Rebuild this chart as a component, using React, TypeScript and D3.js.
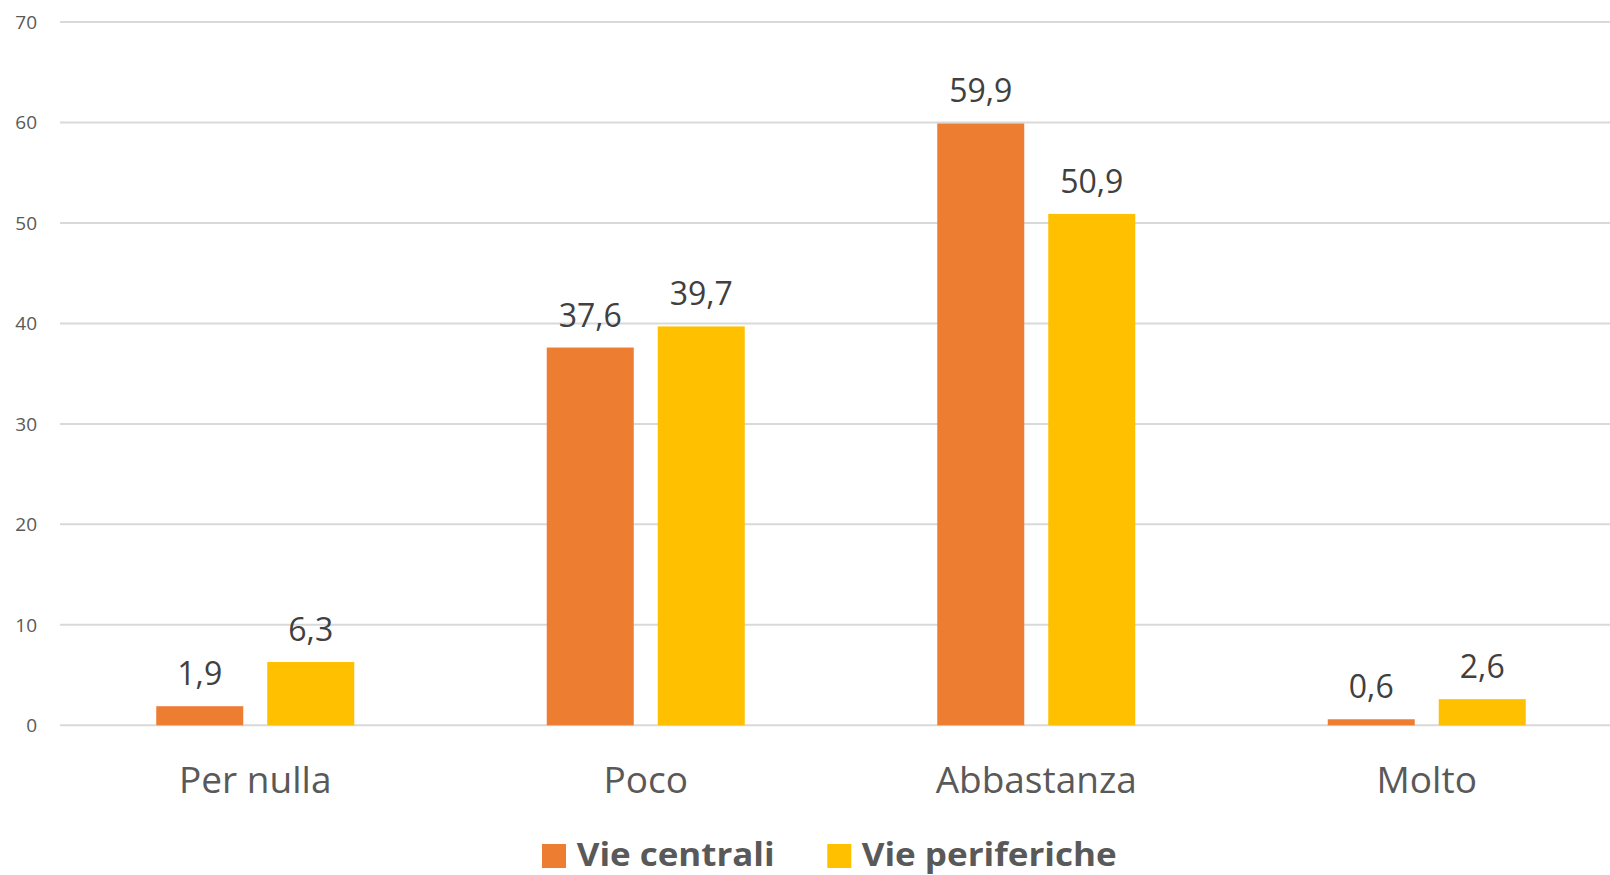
import React from "react";
import * as d3 from "d3";

const categories = ["Per nulla", "Poco", "Abbastanza", "Molto"];
const seriesNames = ["Vie centrali", "Vie periferiche"];
const vieCentrali = [1.9, 37.6, 59.9, 0.6];
const viePeriferiche = [6.3, 39.7, 50.9, 2.6];
const yTicks = [0, 10, 20, 30, 40, 50, 60, 70];
const colors = ["#ED7D31", "#FFC000"];

const W = 1610;
const H = 875;
const FONT = "'Open Sans', sans-serif";

export default function App() {
  const x0 = d3.scaleBand<string>().domain(categories).range([60, 1622]).padding(0);
  const groupW = 198;
  const x1 = d3
    .scaleBand<string>()
    .domain(seriesNames)
    .range([x0.bandwidth() / 2 - groupW / 2, x0.bandwidth() / 2 + groupW / 2])
    .paddingInner(24 / 111);
  const y = d3.scaleLinear().domain([0, 70]).range([725.3, 22]);
  const series = [vieCentrali, viePeriferiche];
  const fmt = (v: number) => v.toFixed(1).replace(".", ",");

  return (
    <svg
      width={W}
      height={H}
      style={{ position: "absolute", left: 0, top: 0, background: "#fff" }}
      fontFamily={FONT}
    >
      {yTicks.map((t) => (
        <g key={t}>
          <line x1={60} x2={1610} y1={y(t)} y2={y(t)} stroke="#d9d9d9" strokeWidth={2} />
          <text x={37} y={y(t) + 7} textAnchor="end" fontSize={19} fill="#595959">
            {t}
          </text>
        </g>
      ))}
      {categories.map((c, i) => (
        <g key={c} transform={`translate(${x0(c)},0)`}>
          {series.map((vals, s) => {
            const bx = x1(seriesNames[s])!;
            const v = vals[i];
            return (
              <g key={s}>
                <rect
                  x={bx}
                  y={y(v)}
                  width={x1.bandwidth()}
                  height={y(0) - y(v)}
                  fill={colors[s]}
                />
                <text
                  x={bx + x1.bandwidth() / 2}
                  y={y(v) - 21}
                  textAnchor="middle"
                  fontSize={32}
                  fill="#404040"
                >
                  {fmt(v)}
                </text>
              </g>
            );
          })}
          <text
            x={x0.bandwidth() / 2}
            y={793}
            textAnchor="middle"
            fontSize={37}
            fill="#595959"
          >
            {c}
          </text>
        </g>
      ))}
      {/* legend */}
      <rect x={542} y={844} width={24} height={24} fill={colors[0]} />
      <text x={576.7} y={866} fontSize={33} fontWeight="bold" fill="#595959" textLength={198} lengthAdjust="spacingAndGlyphs">
        {seriesNames[0]}
      </text>
      <rect x={827.3} y={844} width={24} height={24} fill={colors[1]} />
      <text x={861.7} y={866} fontSize={33} fontWeight="bold" fill="#595959" textLength={255} lengthAdjust="spacingAndGlyphs">
        {seriesNames[1]}
      </text>
    </svg>
  );
}
